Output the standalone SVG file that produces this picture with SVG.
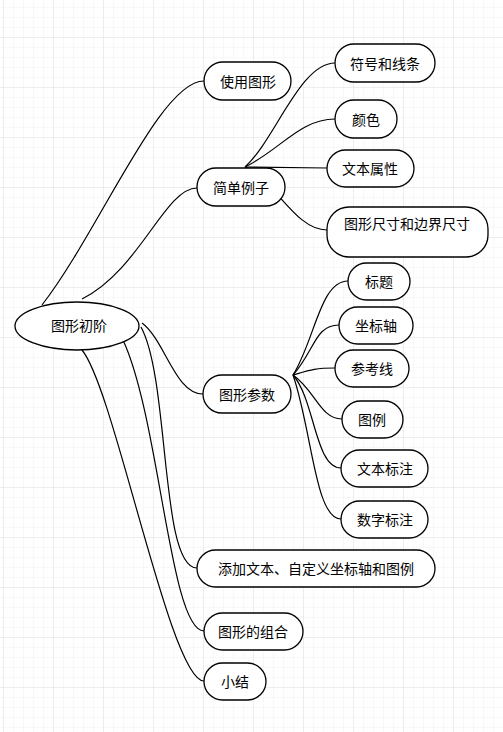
<svg xmlns="http://www.w3.org/2000/svg" width="503" height="732" viewBox="0 0 503 732">
<defs>
<pattern id="minor" x="3" y="7" width="10" height="10" patternUnits="userSpaceOnUse">
<path d="M0,0 H10 M0,0 V10" stroke="#f1f1f1" stroke-width="1" fill="none"/>
</pattern>
<pattern id="major" x="3" y="37" width="50" height="50" patternUnits="userSpaceOnUse">
<path d="M0,0 H50 M0,0 V50" stroke="#e2e2e2" stroke-width="1" fill="none"/>
</pattern>
</defs>
<style>
.n{fill:#fff;stroke:#000;stroke-width:1.3}
.t{font-family:"Noto Sans CJK SC","Noto Sans",sans-serif;font-size:14px;fill:#000;text-anchor:middle;dominant-baseline:central}
.c{fill:none;stroke:#000;stroke-width:1.2}
</style>
<rect width="503" height="732" fill="#fff"/>
<rect width="503" height="732" fill="url(#minor)"/>
<rect width="503" height="732" fill="url(#major)"/>
<g id="connectors">
<path class="c" d="M42,305 C100,230 160,81 204,81"/>
<path class="c" d="M82,299 C140,270 165,188 197,188"/>
<path class="c" d="M142,323 C165,340 175,394 203,394"/>
<path class="c" d="M141,327 C170,380 160,568 197,568"/>
<path class="c" d="M123,340 C160,420 170,631 204,631"/>
<path class="c" d="M82,350 C115,390 170,681 204,681"/>
<path class="c" d="M245,167 C275,140 300,63 335,63"/>
<path class="c" d="M245,167 C280,150 300,119 335,119"/>
<path class="c" d="M245,167 L327,168"/>
<path class="c" d="M245,167 C275,180 295,230 327,230"/>
<path class="c" d="M293,375 C315,340 320,281 348,281"/>
<path class="c" d="M293,375 C315,350 315,325 339,325"/>
<path class="c" d="M293,375 C310,370 315,368 335,368"/>
<path class="c" d="M293,375 C315,390 320,419 342,419"/>
<path class="c" d="M293,375 C315,400 315,468 341,468"/>
<path class="c" d="M293,375 C312,430 315,519 341,519"/>
</g>
<g id="root"><ellipse class="n" cx="77" cy="326" rx="62" ry="24"/><text class="t" x="79" y="325">图形初阶</text></g>
<g id="n1"><rect class="n" x="204" y="62" width="87" height="38" rx="19"/><text class="t" x="248" y="81">使用图形</text></g>
<g id="n2"><rect class="n" x="197" y="168" width="88" height="38" rx="19"/><text class="t" x="241" y="187">简单例子</text></g>
<g id="n21"><rect class="n" x="335" y="44" width="100" height="38" rx="19"/><text class="t" x="385" y="63">符号和线条</text></g>
<g id="n22"><rect class="n" x="335" y="100" width="62" height="38" rx="19"/><text class="t" x="366" y="119">颜色</text></g>
<g id="n23"><rect class="n" x="327" y="150" width="87" height="37" rx="18.5"/><text class="t" x="370" y="168">文本属性</text></g>
<g id="n24"><rect class="n" x="327" y="207" width="161" height="50" rx="22"/><text class="t" x="407" y="223">图形尺寸和边界尺寸</text></g>
<g id="n3"><rect class="n" x="203" y="375" width="88" height="38" rx="19"/><text class="t" x="247" y="394">图形参数</text></g>
<g id="n31"><rect class="n" x="348" y="263" width="62" height="37" rx="18.5"/><text class="t" x="379" y="281">标题</text></g>
<g id="n32"><rect class="n" x="339" y="307" width="74" height="37" rx="18.5"/><text class="t" x="376" y="325">坐标轴</text></g>
<g id="n33"><rect class="n" x="335" y="350" width="74" height="37" rx="18.5"/><text class="t" x="372" y="368">参考线</text></g>
<g id="n34"><rect class="n" x="342" y="401" width="61" height="37" rx="18.5"/><text class="t" x="372" y="419">图例</text></g>
<g id="n35"><rect class="n" x="341" y="450" width="87" height="37" rx="18.5"/><text class="t" x="385" y="468">文本标注</text></g>
<g id="n36"><rect class="n" x="341" y="501" width="87" height="37" rx="18.5"/><text class="t" x="385" y="519">数字标注</text></g>
<g id="n4"><rect class="n" x="197" y="550" width="238" height="37" rx="18.5"/><text class="t" x="316" y="568">添加文本、自定义坐标轴和图例</text></g>
<g id="n5"><rect class="n" x="204" y="613" width="99" height="37" rx="18.5"/><text class="t" x="253" y="631">图形的组合</text></g>
<g id="n6"><rect class="n" x="204" y="663" width="62" height="37" rx="18.5"/><text class="t" x="235" y="681">小结</text></g>
</svg>
